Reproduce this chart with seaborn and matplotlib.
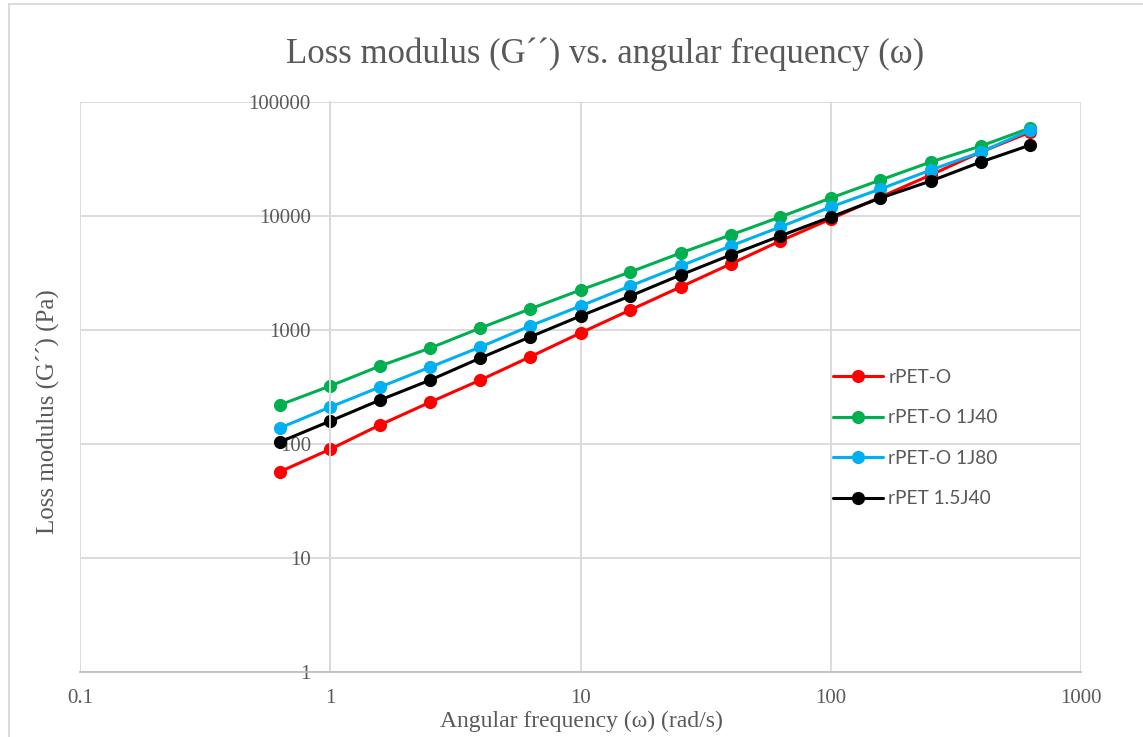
import matplotlib
matplotlib.use("Agg")
import matplotlib.pyplot as plt
import matplotlib.ticker as mticker
from matplotlib.lines import Line2D
import seaborn as sns
import pandas as pd

# ---- data ----
omega = [0.628, 1.0, 1.58, 2.51, 3.98, 6.28, 10.0, 15.8, 25.1, 39.8, 62.8, 100.0, 158.0, 251.0, 398.0, 628.0]
rpet_o = [57, 90, 147, 233, 364, 580, 942, 1497, 2384, 3793, 6036, 9418, 14680, 22900, 36400, 54500]
rpet_o_1j40 = [220, 323, 483, 695, 1041, 1528, 2243, 3228, 4733, 6810, 9800, 14380, 20700, 29770, 41100, 59200]
rpet_o_1j80 = [138, 211, 316, 473, 709, 1084, 1624, 2432, 3641, 5454, 8010, 12000, 17260, 25300, 36400, 56800]
rpet_15j40 = [104, 159, 243, 364, 568, 868, 1327, 1987, 3036, 4547, 6677, 9800, 14380, 20270, 29770, 41960]
series_names = ["rPET-O", "rPET-O 1J40", "rPET-O 1J80", "rPET 1.5J40"]
colors = ["#FF0000", "#00B050", "#00B0F0", "#000000"]
y_ticks = [1, 10, 100, 1000, 10000, 100000]
x_ticks = [0.1, 1, 10, 100, 1000]

frames = []
for name, vals in zip(series_names, [rpet_o, rpet_o_1j40, rpet_o_1j80, rpet_15j40]):
    frames.append(pd.DataFrame({"omega": omega, "G2": vals, "series": name}))
df = pd.concat(frames, ignore_index=True)

sns.set_theme(style="white")
plt.rcParams["font.family"] = ["Liberation Serif", "DejaVu Serif"]

fig = plt.figure(figsize=(11.43, 7.37), dpi=100)
ax = fig.add_axes([80 / 1143, 1 - 672 / 737, (1081 - 80) / 1143, (672 - 102) / 737])

sns.lineplot(data=df, x="omega", y="G2", hue="series", hue_order=series_names,
             palette=colors, marker="o", markersize=9.5, markeredgewidth=0,
             linewidth=2.2, ax=ax, sort=False, legend=True)

ax.set_xscale("log")
ax.set_yscale("log")
ax.set_xlim(0.1, 1000)
ax.set_ylim(1, 100000)
ax.set_xticks(x_ticks)
ax.set_yticks(y_ticks)
ax.xaxis.set_major_formatter(mticker.FuncFormatter(lambda v, p: f"{v:g}"))
ax.yaxis.set_major_formatter(mticker.FuncFormatter(lambda v, p: f"{v:.0f}"))
ax.xaxis.set_minor_locator(mticker.NullLocator())
ax.yaxis.set_minor_locator(mticker.NullLocator())

grid_c = "#D9D9D9"
ax.grid(True, which="major", color=grid_c, linewidth=1.3)
ax.set_axisbelow(True)
for s in ["top", "right"]:
    ax.spines[s].set_visible(False)
ax.spines["left"].set_position(("data", 1))
ax.spines["left"].set_color(grid_c)
ax.spines["left"].set_linewidth(1.3)
ax.spines["bottom"].set_color("#BFBFBF")
ax.spines["bottom"].set_linewidth(1.3)

ax.tick_params(axis="both", length=0, labelsize=15, colors="#595959")
ax.tick_params(axis="y", pad=14)
ax.tick_params(axis="x", pad=12)

ax.set_xlabel("")
ax.set_ylabel("")
fig.text(581 / 1143, 1 - 721 / 737, "Angular frequency (\u03c9) (rad/s)",
         ha="center", va="center", fontsize=17, color="#595959")
fig.text(47 / 1143, 1 - 412 / 737, "Loss modulus (G\u00b4\u00b4) (Pa)", rotation=90,
         ha="center", va="center", fontsize=18, color="#595959")
fig.text(605 / 1143, 1 - 54 / 737, "Loss modulus (G\u00b4\u00b4) vs. angular frequency (\u03c9)",
         ha="center", va="center", fontsize=25, color="#595959")

leg = ax.legend(loc="upper left", bbox_to_anchor=(745 / 1001, 1 - 259 / 570),
                frameon=False, handlelength=2.65, handletextpad=0.26,
                labelspacing=1.23, borderaxespad=0,
                prop={"family": "Lato", "size": 13.8})
for t in leg.get_texts():
    t.set_color("#595959")
for h in leg.legend_handles:
    h.set_linewidth(2.2)

# chart area border (left/top visible)
fig.add_artist(Line2D([9 / 1143, 9 / 1143], [0, 1 - 4 / 737], transform=fig.transFigure, color="#D9D9D9", linewidth=1.3))
fig.add_artist(Line2D([9 / 1143, 1], [1 - 4 / 737, 1 - 4 / 737], transform=fig.transFigure, color="#D9D9D9", linewidth=1.3))

fig.savefig("out.png", dpi=100, facecolor="white")
